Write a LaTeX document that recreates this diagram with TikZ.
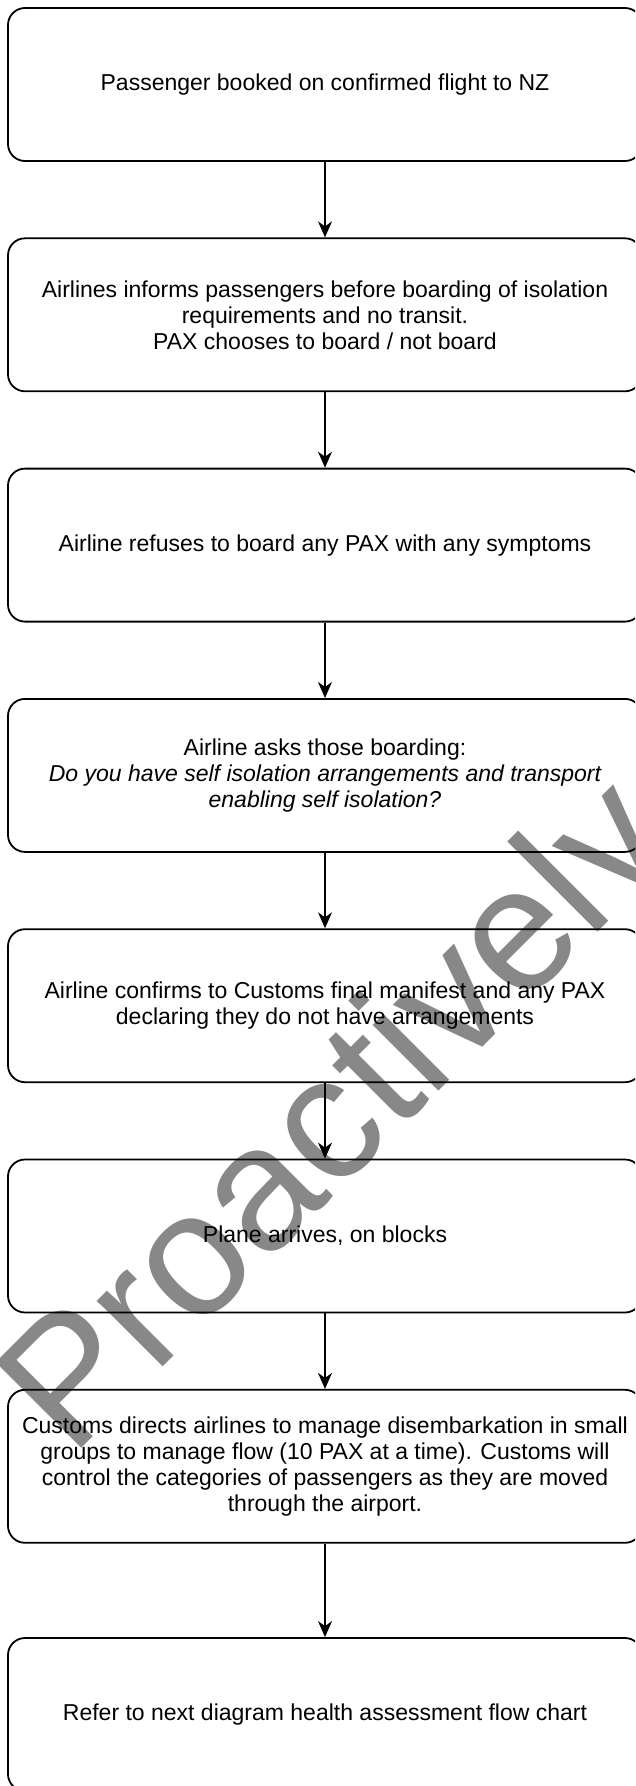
\documentclass[tikz,border=0pt]{standalone}
\usepackage{fontspec}
\setmainfont{Liberation Sans}
\usetikzlibrary{arrows.meta}
\definecolor{wmgray}{RGB}{136,136,136}
\tikzset{
  stepbox/.style={draw=black, line width=1.8pt, rounded corners=17pt,
    minimum width=634pt, minimum height=153pt, inner sep=0pt,
    align=center, font=\fontsize{23}{26}\selectfont},
  arr/.style={draw=black, line width=1.3pt,
    -{Stealth[length=16pt,width=14pt,inset=5pt]}},
  wmark/.style={text=wmgray, rotate=45, anchor=base west, inner sep=0pt,
    font=\fontsize{176}{176}\selectfont}
}
\begin{document}
\begin{tikzpicture}[x=1pt,y=-1pt]
\useasboundingbox (0,0) rectangle (635,1786);
\clip (0,0) rectangle (635,1786);
\fill[white] (0,0) rectangle (635,1786);
\node[wmark] (wm) at (71,1459) {Proactively};
\node[stepbox] (b1) at (325,84.5) {Passenger booked on confirmed flight to NZ};
\node[stepbox] (b2) at (325,314.8) {Airlines informs passengers before boarding of isolation\\requirements and no transit.\\PAX chooses to board / not board};
\node[stepbox] (b3) at (325,545.1) {Airline refuses to board any PAX with any symptoms};
\node[stepbox] (b4) at (325,775.4) {Airline asks those boarding:\\\itshape Do you have self isolation arrangements and transport\\\itshape enabling self isolation?};
\node[stepbox] (b5) at (325,1005.7) {Airline confirms to Customs final manifest and any PAX\\declaring they do not have arrangements};
\node[stepbox] (b6) at (325,1236) {Plane arrives, on blocks};
\node[stepbox] (b7) at (325,1466.3) {Customs directs airlines to manage disembarkation in small\\groups to manage flow (10 PAX at a time). Customs will\\control the categories of passengers as they are moved\\through the airport.};
\node[stepbox] (b8) at (325,1714.5) {Refer to next diagram health assessment flow chart};
\draw[arr] (b1.south) -- (b2.north);
\draw[arr] (b2.south) -- (b3.north);
\draw[arr] (b3.south) -- (b4.north);
\draw[arr] (b4.south) -- (b5.north);
\draw[arr] (b5.south) -- (b6.north);
\draw[arr] (b6.south) -- (b7.north);
\draw[arr] (b7.south) -- (b8.north);
\end{tikzpicture}
\end{document}
